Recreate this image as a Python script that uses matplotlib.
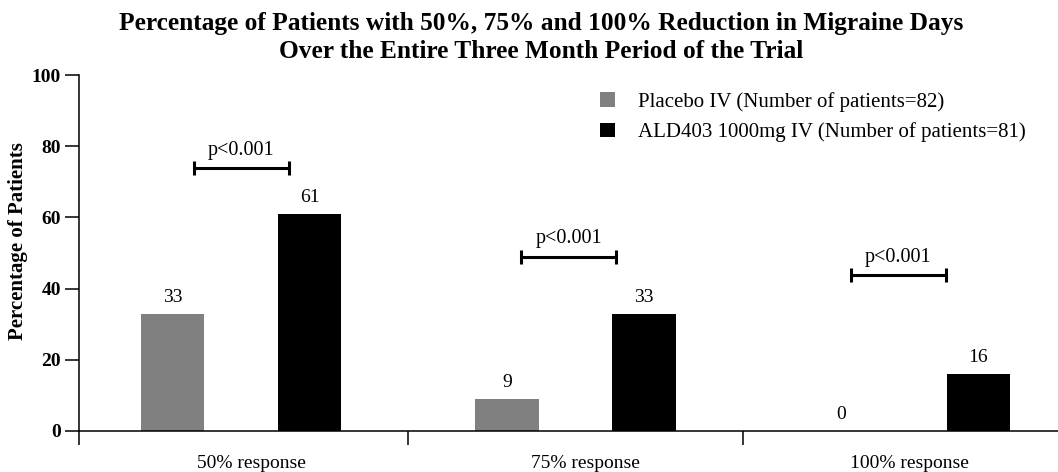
import matplotlib
matplotlib.use("Agg")
import matplotlib.pyplot as plt
import numpy as np

plt.rcParams['font.family'] = ['Liberation Serif', 'DejaVu Serif']

categories = ['50% response', '75% response', '100% response']
placebo = [33, 9, 0]
ald403 = [61, 33, 16]
series_names = ['Placebo IV (Number of patients=82)',
                'ALD403 1000mg IV (Number of patients=81)']
p_labels = ['p<0.001', 'p<0.001', 'p<0.001']
p_heights = [73.8, 48.9, 43.8]
p_centers = [0.0, 0.98, 1.965]

fig = plt.figure(figsize=(10.58, 4.72), dpi=100)
ax = fig.add_axes([0.0747, 0.0869, 0.9253, 0.7542])

x = np.arange(len(categories))
off = 0.205
w = 0.189
ax.bar(x - off, placebo, w, color='#808080', label=series_names[0])
ax.bar(x + off, ald403, w, color='#000000', label=series_names[1])

for i in range(len(categories)):
    ax.text(x[i] - off, placebo[i] + 4.6, str(placebo[i]), ha='center', va='center', fontsize=14)
    ax.text(x[i] + off, ald403[i] + 4.6, str(ald403[i]), ha='center', va='center', fontsize=14)

# significance brackets
half = 0.142
for c, h, t in zip(p_centers, p_heights, p_labels):
    ax.plot([c - half, c + half], [h, h], color='black', lw=2.2, solid_capstyle='butt')
    ax.plot([c - half, c - half], [h - 2, h + 2], color='black', lw=2.2, solid_capstyle='butt')
    ax.plot([c + half, c + half], [h - 2, h + 2], color='black', lw=2.2, solid_capstyle='butt')
    ax.text(c, h + 3.8, t, ha='center', va='baseline', fontsize=14.5)

ax.set_xlim(-0.485, 2.443)
ax.set_ylim(0, 100)
ax.spines['top'].set_visible(False)
ax.spines['right'].set_visible(False)
ax.spines['left'].set_linewidth(1.1)
ax.spines['bottom'].set_linewidth(1.1)

ax.set_yticks([0, 20, 40, 60, 80, 100])
ax.tick_params(axis='y', length=10, width=1.1, labelsize=14, pad=3)
for lab in ax.get_yticklabels():
    lab.set_fontweight('bold')

ax.set_xticks([-0.485, 0.5, 1.5])
ax.set_xticklabels(['', '', ''])
ax.tick_params(axis='x', which='major', length=10, width=1.1)
ax.set_xticks(x + np.array([0.03, 0.03, 0.0]), minor=True)
ax.set_xticklabels(categories, minor=True, fontsize=14)
ax.tick_params(axis='x', which='minor', length=0, pad=17)

fig.text(18 / 1058, 1 - 241 / 472, 'Percentage of Patients', rotation=90,
         ha='center', va='center', fontsize=15, fontweight='bold')

fig.suptitle('Percentage of Patients with 50%, 75% and 100% Reduction in Migraine Days\n'
             'Over the Entire Three Month Period of the Trial',
             fontsize=18.3, fontweight='bold', x=0.5117, y=1 - 12 / 472, va='top',
             linespacing=1.3)

ax.legend(loc='upper left', bbox_to_anchor=(0.532, 0.952), frameon=False, fontsize=15,
          handlelength=0.72, handleheight=0.72, handletextpad=1.1, labelspacing=0.5,
          borderpad=0, borderaxespad=0)

fig.savefig('out.png', dpi=100)
